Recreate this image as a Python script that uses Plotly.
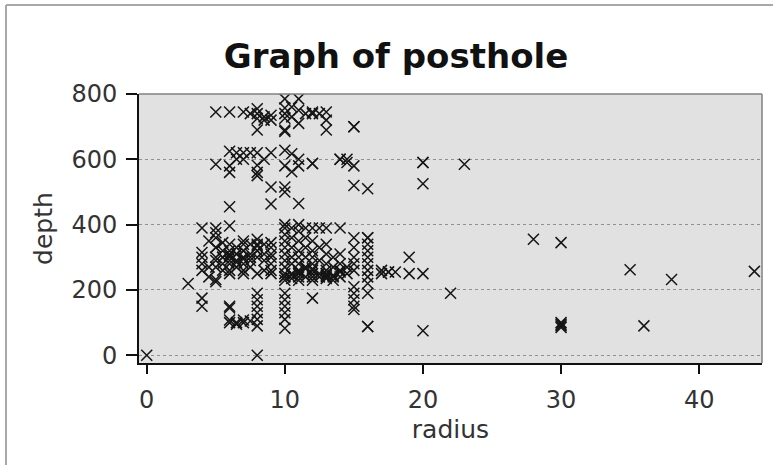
import plotly.graph_objects as go

# ---- data ----
radius = (
    [0, 3]
    + [4] * 7 + [4.5] * 3 + [5] * 11 + [5.5] * 5 + [6] * 17 + [6.5] * 8
    + [7] * 12 + [7.5] * 7 + [8] * 20 + [8.5] * 7 + [9] * 11
    + [10] * 27 + [10.5] * 11 + [11] * 15 + [11.5] * 7 + [12] * 13
    + [12.5] * 5 + [13] * 10 + [13.5] * 4 + [14] * 7 + [14.5] * 4
    + [15] * 14 + [16] * 13 + [17] * 2 + [17.5] * 2 + [18] + [19] * 2
    + [20] * 5 + [22, 23, 28] + [30] * 5 + [35, 36, 38, 44]
    # extra overlapping records in the dense cores
    + [5.5, 6, 6.5, 7, 5, 6, 7, 8, 6.5, 7.5, 10.5, 11, 11.5, 12, 12.5, 13, 13.5, 14, 10, 11, 12, 13, 8, 9]
)
depth = (
    [0, 220]
    + [390, 315, 260, 175, 150, 300, 280]
    + [350, 270, 240]
    + [745, 585, 390, 375, 360, 330, 300, 290, 270, 232, 225]
    + [345, 320, 300, 280, 260]
    + [745, 625, 580, 560, 455, 396, 340, 320, 310, 300, 280, 260, 250, 150, 145, 108, 100]
    + [620, 600, 330, 310, 290, 270, 100, 95]
    + [745, 620, 600, 350, 340, 320, 300, 280, 260, 250, 108, 100]
    + [740, 620, 340, 310, 290, 270, 105]
    + [755, 740, 725, 690, 620, 582, 560, 550, 355, 340, 320, 300, 250, 190, 170, 150, 130, 110, 90, 0]
    + [730, 720, 600, 340, 310, 290, 260]
    + [735, 720, 620, 515, 463, 345, 330, 300, 280, 260, 250]
    + [785, 757, 740, 726, 690, 685, 628, 580, 515, 500, 400, 390, 370, 350, 330, 310, 290, 270,
       250, 240, 230, 190, 170, 150, 130, 110, 83]
    + [760, 730, 617, 562, 390, 360, 330, 300, 280, 250, 235]
    + [785, 750, 710, 600, 580, 465, 400, 380, 350, 320, 300, 280, 260, 240, 230]
    + [740, 390, 360, 330, 300, 270, 240]
    + [745, 740, 587, 587, 390, 350, 320, 300, 280, 260, 240, 230, 175]
    + [740, 390, 330, 290, 250]
    + [745, 720, 690, 390, 340, 310, 280, 260, 250, 240]
    + [300, 270, 240, 230]
    + [600, 600, 390, 310, 280, 260, 240]
    + [600, 590, 270, 250]
    + [700, 700, 580, 520, 360, 330, 300, 280, 260, 210, 190, 170, 150, 140]
    + [510, 360, 360, 340, 320, 300, 280, 260, 240, 220, 190, 88, 88]
    + [260, 250]
    + [255, 255]
    + [255]
    + [300, 250]
    + [590, 590, 525, 250, 75]
    + [190, 585, 355]
    + [345, 100, 95, 90, 85]
    + [262, 90, 232, 257]
    + [300, 290, 310, 320, 330, 305, 295, 335, 285, 300, 245, 255, 265, 250, 240, 235, 245, 255,
       240, 250, 265, 245, 320, 310]
)

x_ticks = [0, 10, 20, 30, 40]
y_ticks = [0, 200, 400, 600, 800]

W, H = 773, 465
ML, MR, MT, MB = 139, 11, 94, 102
PW, PH = W - ML - MR, H - MT - MB

fig = go.Figure()
fig.add_trace(go.Scatter(
    x=radius, y=depth, mode="markers",
    marker=dict(symbol="x-thin", size=11, line=dict(width=1.5, color="#151515"), color="#151515"),
    cliponaxis=True, showlegend=False,
))

font = "DejaVu Sans, Verdana, sans-serif"

def px_x(p):
    return (p - ML) / PW

def px_y(p):
    return (H - MB - p) / PH

shapes = [
    dict(type="line", xref="paper", yref="paper", x0=0, x1=1, y0=1, y1=1,
         line=dict(color="#808080", width=1.5)),
    dict(type="line", xref="paper", yref="paper", x0=1, x1=1, y0=0, y1=1,
         line=dict(color="#808080", width=1.5)),
    dict(type="line", xref="paper", yref="paper", x0=px_x(6), x1=px_x(6), y0=px_y(465), y1=px_y(5),
         line=dict(color="#a8a8a8", width=2)),
    dict(type="line", xref="paper", yref="paper", x0=px_x(6), x1=px_x(773), y0=px_y(5), y1=px_y(5),
         line=dict(color="#a8a8a8", width=2)),
]

fig.update_layout(
    width=W, height=H,
    margin=dict(l=ML, r=MR, t=MT, b=MB, pad=0),
    paper_bgcolor="white",
    plot_bgcolor="#e1e1e1",
    title=dict(text="<b>Graph of posthole</b>", x=396 / W, xref="container", xanchor="center",
               y=1 - 56 / H, yref="container", yanchor="middle",
               font=dict(family=font, size=34, color="#111111")),
    shapes=shapes,
    font=dict(family=font, color="#333333"),
)
fig.update_xaxes(
    range=[-0.56, 44.55], tickvals=x_ticks, ticktext=[str(v) for v in x_ticks],
    showgrid=False, zeroline=False, showline=True, linecolor="#111111", linewidth=2,
    ticks="outside", ticklen=9, tickwidth=2, tickcolor="#111111", ticklabelstandoff=5,
    tickfont=dict(family=font, size=24, color="#333333"),
    title=dict(text="radius", font=dict(family=font, size=25, color="#333333"), standoff=8),
)
fig.update_yaxes(
    range=[-23.6, 800], tickvals=y_ticks, ticktext=[str(v) for v in y_ticks],
    showgrid=True, gridcolor="#909090", griddash="dot", gridwidth=1.2,
    zeroline=False, showline=True, linecolor="#111111", linewidth=2,
    ticks="outside", ticklen=11, tickwidth=2, tickcolor="#111111", ticklabelstandoff=4,
    tickfont=dict(family=font, size=24, color="#333333"),
    title=dict(text="depth", font=dict(family=font, size=25, color="#333333"), standoff=12),
)

fig.write_html("out.html", config={"displayModeBar": False},
               post_script="document.body.style.margin='0px';")
